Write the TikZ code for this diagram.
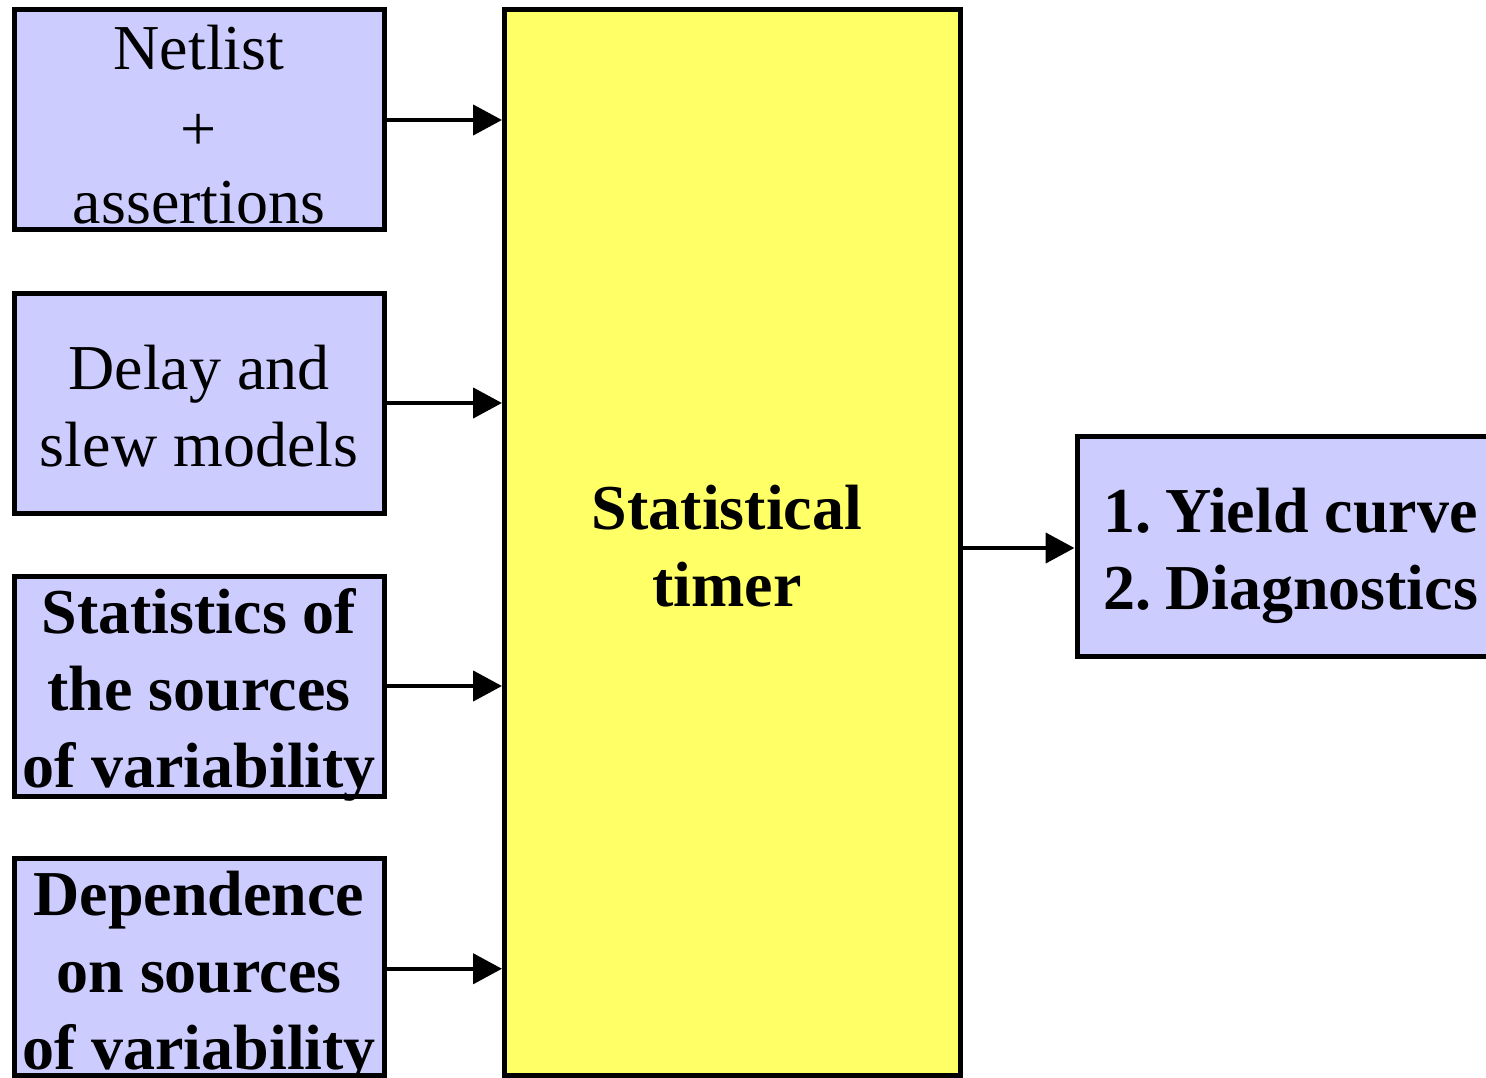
\documentclass[tikz,border=0pt]{standalone}
\usepackage{fontspec}
\setmainfont{Liberation Serif}
\usetikzlibrary{arrows.meta}
\definecolor{lav}{HTML}{CCCCFF}
\definecolor{yel}{HTML}{FFFF66}
\begin{document}
\begin{tikzpicture}[x=1pt,y=-1pt,
  box/.style={rectangle, draw=black, line width=5pt, fill=lav, inner sep=0pt},
  inbox/.style={box, minimum width=370pt, minimum height=220pt},
  txt/.style={align=center, font=\fontsize{64}{77}\selectfont, inner sep=0pt},
  btxt/.style={txt, font=\fontsize{64}{77}\selectfont\bfseries},
  arr/.style={line width=4.5pt, -{Triangle[length=29pt,width=30pt]}}]
\useasboundingbox (0,0) rectangle (1486,1078);
\clip (0,0) rectangle (1486,1078);
% input boxes
\node[inbox] (b1) at (199,120) {};
\node[inbox] (b2) at (199,403) {};
\node[inbox] (b3) at (199,686) {};
\node[inbox, minimum height=217.5pt] (b4) at (199,966.75) {};
% timer
\node[box, fill=yel, minimum width=455.5pt, minimum height=1065.5pt] (tm) at (732.25,542.75) {};
% output
\node[box, minimum width=423pt, minimum height=220pt] (out) at (1288.5,546) {};
% texts
\node[txt] (t1) at (199,131) {\strut Netlist\\\strut \raisebox{-4pt}{+}\\\strut assertions};
\node[txt] (t2) at (199,413) {\strut Delay and\\\strut slew models};
\node[btxt] (t3) at (199,695) {\strut Statistics of\\\strut the sources\\\strut of variability};
\node[btxt] (t4) at (199,977) {\strut Dependence\\\strut on sources\\\strut of variability};
\node[btxt] (tt) at (727,553) {\strut Statistical\\\strut timer};
\node[btxt, align=left, anchor=west] (to) at (1103,556) {\strut 1.\hspace{14pt}Yield curve\\\strut 2.\hspace{14pt}Diagnostics};
% arrows
\draw[arr] (b1.east) -- (b1.east -| tm.west);
\draw[arr] (b2.east) -- (b2.east -| tm.west);
\draw[arr] (b3.east) -- (b3.east -| tm.west);
\draw[arr] ([yshift=-2pt]b4.east) -- ([yshift=-2pt]b4.east -| tm.west);
\draw[arr] ([yshift=-2pt]out.west -| tm.east) -- ([yshift=-2pt]out.west);
\end{tikzpicture}
\end{document}
